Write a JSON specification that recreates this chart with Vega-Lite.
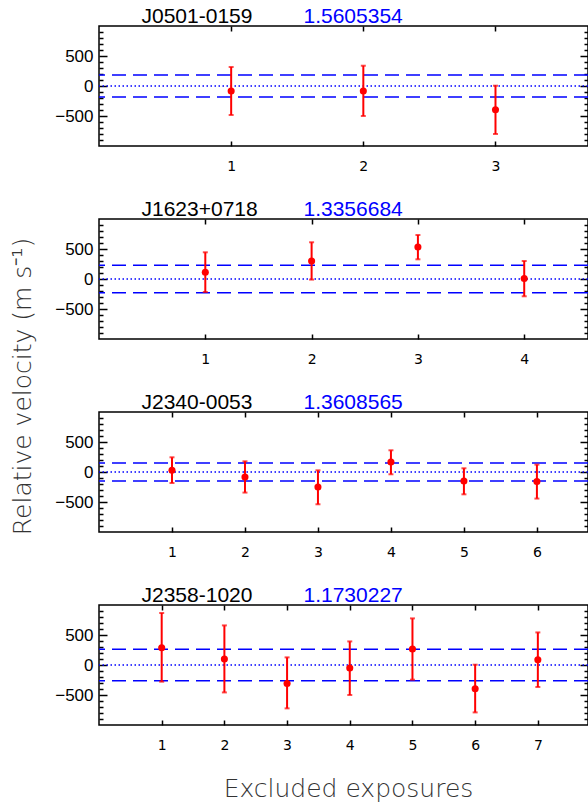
{
  "$schema": "https://vega.github.io/schema/vega-lite/v6.json",
  "padding": {"left": 9, "top": 4, "right": 0, "bottom": 0},
  "background": "white",
  "spacing": 73,
  "bounds": "flush",
  "config": {
    "view": {"stroke": "black", "strokeWidth": 1.5},
    "axis": {"domain": false, "grid": false, "tickColor": "black", "tickWidth": 1.5, "labelColor": "black", "titleFontWeight": "normal"}
  },
  "datasets": {
    "pts": [
      {"p": "J0501-0159", "x": 1, "v": -83, "lo": -483, "hi": 317},
      {"p": "J0501-0159", "x": 2, "v": -83, "lo": -500, "hi": 338},
      {"p": "J0501-0159", "x": 3, "v": -395, "lo": -800, "hi": 5},
      {"p": "J1623+0718", "x": 1, "v": 112, "lo": -217, "hi": 445},
      {"p": "J1623+0718", "x": 2, "v": 300, "lo": -10, "hi": 612},
      {"p": "J1623+0718", "x": 3, "v": 533, "lo": 328, "hi": 733},
      {"p": "J1623+0718", "x": 4, "v": 7, "lo": -288, "hi": 300},
      {"p": "J2340-0053", "x": 1, "v": 28, "lo": -183, "hi": 245},
      {"p": "J2340-0053", "x": 2, "v": -83, "lo": -343, "hi": 178},
      {"p": "J2340-0053", "x": 3, "v": -250, "lo": -538, "hi": 28},
      {"p": "J2340-0053", "x": 4, "v": 167, "lo": -38, "hi": 362},
      {"p": "J2340-0053", "x": 5, "v": -150, "lo": -372, "hi": 62},
      {"p": "J2340-0053", "x": 6, "v": -160, "lo": -443, "hi": 123},
      {"p": "J2358-1020", "x": 1, "v": 288, "lo": -278, "hi": 867},
      {"p": "J2358-1020", "x": 2, "v": 100, "lo": -457, "hi": 660},
      {"p": "J2358-1020", "x": 3, "v": -307, "lo": -723, "hi": 127},
      {"p": "J2358-1020", "x": 4, "v": -50, "lo": -500, "hi": 393},
      {"p": "J2358-1020", "x": 5, "v": 267, "lo": -245, "hi": 777},
      {"p": "J2358-1020", "x": 6, "v": -395, "lo": -790, "hi": 5},
      {"p": "J2358-1020", "x": 7, "v": 88, "lo": -367, "hi": 543}
    ],
    "lines": [
      {"p": "J0501-0159", "k": "dash", "y": 183},
      {"p": "J0501-0159", "k": "dash", "y": -183},
      {"p": "J0501-0159", "k": "dot", "y": 0},
      {"p": "J1623+0718", "k": "dash", "y": 230},
      {"p": "J1623+0718", "k": "dash", "y": -230},
      {"p": "J1623+0718", "k": "dot", "y": 0},
      {"p": "J2340-0053", "k": "dash", "y": 150},
      {"p": "J2340-0053", "k": "dash", "y": -150},
      {"p": "J2340-0053", "k": "dot", "y": 0},
      {"p": "J2358-1020", "k": "dash", "y": 262},
      {"p": "J2358-1020", "k": "dash", "y": -262},
      {"p": "J2358-1020", "k": "dot", "y": 0}
    ]
  },
  "vconcat": [
    {
      "width": 489, "height": 120,
      "resolve": {"axis": {"x": "independent", "y": "independent"}},
      "layer": [
        {"data": {"name": "lines"}, "transform": [{"filter": "datum.p === 'J0501-0159' && datum.k === 'dash'"}],
         "mark": {"type": "rule", "color": "#0000ff", "strokeWidth": 1.5, "strokeDash": [14, 7]},
         "encoding": {"y": {"field": "y", "type": "quantitative", "scale": {"domain": [-1000, 1000]}, "axis": null}}},
        {"data": {"name": "lines"}, "transform": [{"filter": "datum.p === 'J0501-0159' && datum.k === 'dot'"}],
         "mark": {"type": "rule", "color": "#0000ff", "strokeWidth": 1.5, "strokeDash": [1.5, 2.5]},
         "encoding": {"y": {"field": "y", "type": "quantitative", "scale": {"domain": [-1000, 1000]}, "axis": null}}},
        {"data": {"name": "pts"}, "transform": [{"filter": "datum.p === 'J0501-0159'"}],
         "mark": {"type": "rule", "color": "#ff0000", "strokeWidth": 2},
         "encoding": {
           "x": {"field": "x", "type": "quantitative", "scale": {"domain": [0, 3.7], "nice": false, "zero": false},
                 "axis": {"orient": "bottom", "values": [1, 2, 3], "tickSize": -5, "labelPadding": 18, "labelFont": "DejaVu Sans", "labelFontSize": 14, "title": null}},
           "y": {"field": "lo", "type": "quantitative", "scale": {"domain": [-1000, 1000], "nice": false},
                 "axis": {"orient": "left", "values": [-500, 0, 500], "tickSize": -8, "labelPadding": 14, "labelFont": "Liberation Sans", "labelFontSize": 17, "title": null}},
           "y2": {"field": "hi"}}},
        {"data": {"name": "pts"}, "transform": [{"filter": "datum.p === 'J0501-0159'"}],
         "mark": {"type": "tick", "orient": "horizontal", "color": "#ff0000", "size": 5, "thickness": 2},
         "encoding": {
           "x": {"field": "x", "type": "quantitative", "scale": {"domain": [0, 3.7], "nice": false, "zero": false},
                 "axis": {"orient": "top", "values": [1, 2, 3], "tickSize": -5, "labels": false, "title": "J0501-0159", "titleX": 42, "titleY": -4, "titleAlign": "left", "titleAnchor": "start", "titleBaseline": "alphabetic", "titleAngle": 0, "titleFont": "Liberation Sans", "titleFontSize": 21, "titleColor": "black"}},
           "y": {"field": "lo", "type": "quantitative", "scale": {"domain": [-1000, 1000], "nice": false},
                 "axis": {"orient": "left", "values": [-900, -800, -700, -600, -400, -300, -200, -100, 100, 200, 300, 400, 600, 700, 800, 900], "tickSize": -4, "labels": false, "title": null}}}},
        {"data": {"name": "pts"}, "transform": [{"filter": "datum.p === 'J0501-0159'"}],
         "mark": {"type": "tick", "orient": "horizontal", "color": "#ff0000", "size": 5, "thickness": 2},
         "encoding": {
           "x": {"field": "x", "type": "quantitative", "scale": {"domain": [0, 3.7], "nice": false, "zero": false},
                 "axis": {"orient": "top", "ticks": false, "labels": false, "title": "1.5605354", "titleX": 204, "titleY": -4, "titleAlign": "left", "titleAnchor": "start", "titleBaseline": "alphabetic", "titleAngle": 0, "titleFont": "Liberation Sans", "titleFontSize": 21, "titleColor": "#0000ff"}},
           "y": {"field": "hi", "type": "quantitative", "scale": {"domain": [-1000, 1000], "nice": false},
                 "axis": {"orient": "right", "values": [-900, -800, -700, -600, -400, -300, -200, -100, 100, 200, 300, 400, 600, 700, 800, 900], "tickSize": -4, "labels": false, "title": null}}}},
        {"data": {"name": "pts"}, "transform": [{"filter": "datum.p === 'J0501-0159'"}],
         "mark": {"type": "circle", "color": "#ff0000", "opacity": 1, "size": 50},
         "encoding": {
           "x": {"field": "x", "type": "quantitative", "scale": {"domain": [0, 3.7], "nice": false, "zero": false}, "axis": null},
           "y": {"field": "v", "type": "quantitative", "scale": {"domain": [-1000, 1000], "nice": false},
                 "axis": {"orient": "right", "values": [-500, 0, 500], "tickSize": -8, "labels": false, "title": null}}}}
      ]
    },
    {
      "width": 489, "height": 120,
      "resolve": {"axis": {"x": "independent", "y": "independent"}},
      "layer": [
        {"data": {"name": "lines"}, "transform": [{"filter": "datum.p === 'J1623+0718' && datum.k === 'dash'"}],
         "mark": {"type": "rule", "color": "#0000ff", "strokeWidth": 1.5, "strokeDash": [14, 7]},
         "encoding": {"y": {"field": "y", "type": "quantitative", "scale": {"domain": [-1000, 1000]}, "axis": null}}},
        {"data": {"name": "lines"}, "transform": [{"filter": "datum.p === 'J1623+0718' && datum.k === 'dot'"}],
         "mark": {"type": "rule", "color": "#0000ff", "strokeWidth": 1.5, "strokeDash": [1.5, 2.5]},
         "encoding": {"y": {"field": "y", "type": "quantitative", "scale": {"domain": [-1000, 1000]}, "axis": null}}},
        {"data": {"name": "pts"}, "transform": [{"filter": "datum.p === 'J1623+0718'"}],
         "mark": {"type": "rule", "color": "#ff0000", "strokeWidth": 2},
         "encoding": {
           "x": {"field": "x", "type": "quantitative", "scale": {"domain": [0, 4.6], "nice": false, "zero": false},
                 "axis": {"orient": "bottom", "values": [1, 2, 3, 4], "tickSize": -5, "labelPadding": 18, "labelFont": "DejaVu Sans", "labelFontSize": 14, "title": null}},
           "y": {"field": "lo", "type": "quantitative", "scale": {"domain": [-1000, 1000], "nice": false},
                 "axis": {"orient": "left", "values": [-500, 0, 500], "tickSize": -8, "labelPadding": 14, "labelFont": "Liberation Sans", "labelFontSize": 17, "title": null}},
           "y2": {"field": "hi"}}},
        {"data": {"name": "pts"}, "transform": [{"filter": "datum.p === 'J1623+0718'"}],
         "mark": {"type": "tick", "orient": "horizontal", "color": "#ff0000", "size": 5, "thickness": 2},
         "encoding": {
           "x": {"field": "x", "type": "quantitative", "scale": {"domain": [0, 4.6], "nice": false, "zero": false},
                 "axis": {"orient": "top", "values": [1, 2, 3, 4], "tickSize": -5, "labels": false, "title": "J1623+0718", "titleX": 42, "titleY": -4, "titleAlign": "left", "titleAnchor": "start", "titleBaseline": "alphabetic", "titleAngle": 0, "titleFont": "Liberation Sans", "titleFontSize": 21, "titleColor": "black"}},
           "y": {"field": "lo", "type": "quantitative", "scale": {"domain": [-1000, 1000], "nice": false},
                 "axis": {"orient": "left", "values": [-900, -800, -700, -600, -400, -300, -200, -100, 100, 200, 300, 400, 600, 700, 800, 900], "tickSize": -4, "labels": false, "title": null}}}},
        {"data": {"name": "pts"}, "transform": [{"filter": "datum.p === 'J1623+0718'"}],
         "mark": {"type": "tick", "orient": "horizontal", "color": "#ff0000", "size": 5, "thickness": 2},
         "encoding": {
           "x": {"field": "x", "type": "quantitative", "scale": {"domain": [0, 4.6], "nice": false, "zero": false},
                 "axis": {"orient": "top", "ticks": false, "labels": false, "title": "1.3356684", "titleX": 204, "titleY": -4, "titleAlign": "left", "titleAnchor": "start", "titleBaseline": "alphabetic", "titleAngle": 0, "titleFont": "Liberation Sans", "titleFontSize": 21, "titleColor": "#0000ff"}},
           "y": {"field": "hi", "type": "quantitative", "scale": {"domain": [-1000, 1000], "nice": false},
                 "axis": {"orient": "right", "values": [-900, -800, -700, -600, -400, -300, -200, -100, 100, 200, 300, 400, 600, 700, 800, 900], "tickSize": -4, "labels": false, "title": null}}}},
        {"data": {"name": "pts"}, "transform": [{"filter": "datum.p === 'J1623+0718'"}],
         "mark": {"type": "circle", "color": "#ff0000", "opacity": 1, "size": 50},
         "encoding": {
           "x": {"field": "x", "type": "quantitative", "scale": {"domain": [0, 4.6], "nice": false, "zero": false}, "axis": null},
           "y": {"field": "v", "type": "quantitative", "scale": {"domain": [-1000, 1000], "nice": false},
                 "axis": {"orient": "right", "values": [-500, 0, 500], "tickSize": -8, "labels": false, "title": null}}}}
      ]
    },
    {
      "width": 489, "height": 120,
      "resolve": {"axis": {"x": "independent", "y": "independent"}},
      "layer": [
        {"data": {"name": "lines"}, "transform": [{"filter": "datum.p === 'J2340-0053' && datum.k === 'dash'"}],
         "mark": {"type": "rule", "color": "#0000ff", "strokeWidth": 1.5, "strokeDash": [14, 7]},
         "encoding": {"y": {"field": "y", "type": "quantitative", "scale": {"domain": [-1000, 1000]}, "axis": null}}},
        {"data": {"name": "lines"}, "transform": [{"filter": "datum.p === 'J2340-0053' && datum.k === 'dot'"}],
         "mark": {"type": "rule", "color": "#0000ff", "strokeWidth": 1.5, "strokeDash": [1.5, 2.5]},
         "encoding": {"y": {"field": "y", "type": "quantitative", "scale": {"domain": [-1000, 1000]}, "axis": null}}},
        {"data": {"name": "pts"}, "transform": [{"filter": "datum.p === 'J2340-0053'"}],
         "mark": {"type": "rule", "color": "#ff0000", "strokeWidth": 2},
         "encoding": {
           "x": {"field": "x", "type": "quantitative", "scale": {"domain": [0, 6.7], "nice": false, "zero": false},
                 "axis": {"orient": "bottom", "values": [1, 2, 3, 4, 5, 6], "tickSize": -5, "labelPadding": 18, "labelFont": "DejaVu Sans", "labelFontSize": 14, "title": null}},
           "y": {"field": "lo", "type": "quantitative", "scale": {"domain": [-1000, 1000], "nice": false},
                 "axis": {"orient": "left", "values": [-500, 0, 500], "tickSize": -8, "labelPadding": 14, "labelFont": "Liberation Sans", "labelFontSize": 17,
                          "title": "Relative velocity (m s⁻¹)", "titleX": -77, "titleY": -26, "titleAngle": -90, "titleAlign": "center", "titleBaseline": "middle", "titleFont": "DejaVu Sans", "titleFontWeight": 200, "titleFontSize": 25, "titleColor": "#333333"}},
           "y2": {"field": "hi"}}},
        {"data": {"name": "pts"}, "transform": [{"filter": "datum.p === 'J2340-0053'"}],
         "mark": {"type": "tick", "orient": "horizontal", "color": "#ff0000", "size": 5, "thickness": 2},
         "encoding": {
           "x": {"field": "x", "type": "quantitative", "scale": {"domain": [0, 6.7], "nice": false, "zero": false},
                 "axis": {"orient": "top", "values": [1, 2, 3, 4, 5, 6], "tickSize": -5, "labels": false, "title": "J2340-0053", "titleX": 42, "titleY": -4, "titleAlign": "left", "titleAnchor": "start", "titleBaseline": "alphabetic", "titleAngle": 0, "titleFont": "Liberation Sans", "titleFontSize": 21, "titleColor": "black"}},
           "y": {"field": "lo", "type": "quantitative", "scale": {"domain": [-1000, 1000], "nice": false},
                 "axis": {"orient": "left", "values": [-900, -800, -700, -600, -400, -300, -200, -100, 100, 200, 300, 400, 600, 700, 800, 900], "tickSize": -4, "labels": false, "title": null}}}},
        {"data": {"name": "pts"}, "transform": [{"filter": "datum.p === 'J2340-0053'"}],
         "mark": {"type": "tick", "orient": "horizontal", "color": "#ff0000", "size": 5, "thickness": 2},
         "encoding": {
           "x": {"field": "x", "type": "quantitative", "scale": {"domain": [0, 6.7], "nice": false, "zero": false},
                 "axis": {"orient": "top", "ticks": false, "labels": false, "title": "1.3608565", "titleX": 204, "titleY": -4, "titleAlign": "left", "titleAnchor": "start", "titleBaseline": "alphabetic", "titleAngle": 0, "titleFont": "Liberation Sans", "titleFontSize": 21, "titleColor": "#0000ff"}},
           "y": {"field": "hi", "type": "quantitative", "scale": {"domain": [-1000, 1000], "nice": false},
                 "axis": {"orient": "right", "values": [-900, -800, -700, -600, -400, -300, -200, -100, 100, 200, 300, 400, 600, 700, 800, 900], "tickSize": -4, "labels": false, "title": null}}}},
        {"data": {"name": "pts"}, "transform": [{"filter": "datum.p === 'J2340-0053'"}],
         "mark": {"type": "circle", "color": "#ff0000", "opacity": 1, "size": 50},
         "encoding": {
           "x": {"field": "x", "type": "quantitative", "scale": {"domain": [0, 6.7], "nice": false, "zero": false}, "axis": null},
           "y": {"field": "v", "type": "quantitative", "scale": {"domain": [-1000, 1000], "nice": false},
                 "axis": {"orient": "right", "values": [-500, 0, 500], "tickSize": -8, "labels": false, "title": null}}}}
      ]
    },
    {
      "width": 489, "height": 120,
      "resolve": {"axis": {"x": "independent", "y": "independent"}},
      "layer": [
        {"data": {"name": "lines"}, "transform": [{"filter": "datum.p === 'J2358-1020' && datum.k === 'dash'"}],
         "mark": {"type": "rule", "color": "#0000ff", "strokeWidth": 1.5, "strokeDash": [14, 7]},
         "encoding": {"y": {"field": "y", "type": "quantitative", "scale": {"domain": [-1000, 1000]}, "axis": null}}},
        {"data": {"name": "lines"}, "transform": [{"filter": "datum.p === 'J2358-1020' && datum.k === 'dot'"}],
         "mark": {"type": "rule", "color": "#0000ff", "strokeWidth": 1.5, "strokeDash": [1.5, 2.5]},
         "encoding": {"y": {"field": "y", "type": "quantitative", "scale": {"domain": [-1000, 1000]}, "axis": null}}},
        {"data": {"name": "pts"}, "transform": [{"filter": "datum.p === 'J2358-1020'"}],
         "mark": {"type": "rule", "color": "#ff0000", "strokeWidth": 2},
         "encoding": {
           "x": {"field": "x", "type": "quantitative", "scale": {"domain": [0, 7.8], "nice": false, "zero": false},
                 "axis": {"orient": "bottom", "values": [1, 2, 3, 4, 5, 6, 7], "tickSize": -5, "labelPadding": 18, "labelFont": "DejaVu Sans", "labelFontSize": 14,
                          "title": "Excluded exposures", "titleX": 249, "titleY": 71, "titleAlign": "center", "titleAnchor": "middle", "titleBaseline": "alphabetic", "titleFont": "DejaVu Sans", "titleFontWeight": 200, "titleFontSize": 25, "titleColor": "#333333"}},
           "y": {"field": "lo", "type": "quantitative", "scale": {"domain": [-1000, 1000], "nice": false},
                 "axis": {"orient": "left", "values": [-500, 0, 500], "tickSize": -8, "labelPadding": 14, "labelFont": "Liberation Sans", "labelFontSize": 17, "title": null}},
           "y2": {"field": "hi"}}},
        {"data": {"name": "pts"}, "transform": [{"filter": "datum.p === 'J2358-1020'"}],
         "mark": {"type": "tick", "orient": "horizontal", "color": "#ff0000", "size": 5, "thickness": 2},
         "encoding": {
           "x": {"field": "x", "type": "quantitative", "scale": {"domain": [0, 7.8], "nice": false, "zero": false},
                 "axis": {"orient": "top", "values": [1, 2, 3, 4, 5, 6, 7], "tickSize": -5, "labels": false, "title": "J2358-1020", "titleX": 42, "titleY": -4, "titleAlign": "left", "titleAnchor": "start", "titleBaseline": "alphabetic", "titleAngle": 0, "titleFont": "Liberation Sans", "titleFontSize": 21, "titleColor": "black"}},
           "y": {"field": "lo", "type": "quantitative", "scale": {"domain": [-1000, 1000], "nice": false},
                 "axis": {"orient": "left", "values": [-900, -800, -700, -600, -400, -300, -200, -100, 100, 200, 300, 400, 600, 700, 800, 900], "tickSize": -4, "labels": false, "title": null}}}},
        {"data": {"name": "pts"}, "transform": [{"filter": "datum.p === 'J2358-1020'"}],
         "mark": {"type": "tick", "orient": "horizontal", "color": "#ff0000", "size": 5, "thickness": 2},
         "encoding": {
           "x": {"field": "x", "type": "quantitative", "scale": {"domain": [0, 7.8], "nice": false, "zero": false},
                 "axis": {"orient": "top", "ticks": false, "labels": false, "title": "1.1730227", "titleX": 204, "titleY": -4, "titleAlign": "left", "titleAnchor": "start", "titleBaseline": "alphabetic", "titleAngle": 0, "titleFont": "Liberation Sans", "titleFontSize": 21, "titleColor": "#0000ff"}},
           "y": {"field": "hi", "type": "quantitative", "scale": {"domain": [-1000, 1000], "nice": false},
                 "axis": {"orient": "right", "values": [-900, -800, -700, -600, -400, -300, -200, -100, 100, 200, 300, 400, 600, 700, 800, 900], "tickSize": -4, "labels": false, "title": null}}}},
        {"data": {"name": "pts"}, "transform": [{"filter": "datum.p === 'J2358-1020'"}],
         "mark": {"type": "circle", "color": "#ff0000", "opacity": 1, "size": 50},
         "encoding": {
           "x": {"field": "x", "type": "quantitative", "scale": {"domain": [0, 7.8], "nice": false, "zero": false}, "axis": null},
           "y": {"field": "v", "type": "quantitative", "scale": {"domain": [-1000, 1000], "nice": false},
                 "axis": {"orient": "right", "values": [-500, 0, 500], "tickSize": -8, "labels": false, "title": null}}}}
      ]
    }
  ]
}
